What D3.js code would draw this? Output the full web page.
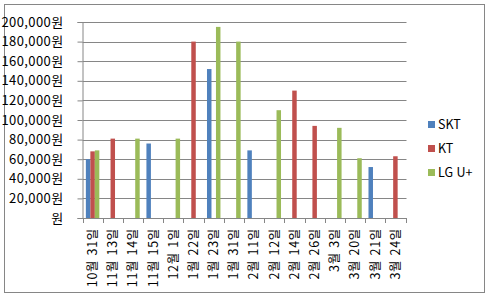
<!DOCTYPE html>
<html lang="ko">
<head>
  <meta charset="UTF-8">
  <script src="https://cdn.jsdelivr.net/npm/d3@7"></script>
  <title>Chart</title>
  <style>
    body { margin: 0; background: #fff; }
    svg { display: block; }
    text { font-family: "Malgun Gothic", "Noto Sans CJK KR", sans-serif; fill: #000; }
  </style>
</head>
<body>
  <svg></svg>
</body>
<script>
const width = 489;
const height = 297;

const categories = ['10월 31일', '11월 13일', '11월 14일', '11월 15일', '12월 1일', '1월 22일', '1월 23일', '1월 31일',
  '2월 11일', '2월 12일', '2월 14일', '2월 26일', '3월 3일', '3월 20일', '3월 21일', '3월 24일'];
const seriesNames = ['SKT', 'KT', 'LG U+'];
const seriesColors = ['#4F81BD', '#C0504D', '#9BBB59'];
const sktValues = [60000, null, null, 76000, null, null, 152000, null, 69000, null, null, null, null, null, 52000, null];
const ktValues = [68000, 81000, null, null, null, 180000, null, null, null, null, 130000, 94000, null, null, null, 63000];
const lguValues = [69000, null, 81000, null, 81000, null, 195000, 180000, null, 110000, null, null, 92000, 61000, null, null];
const yTicks = [0, 20000, 40000, 60000, 80000, 100000, 120000, 140000, 160000, 180000, 200000];

const plot = { left: 82.5, right: 405.5, top: 22, bottom: 218 };
const fontFamily = '"Malgun Gothic", "Noto Sans CJK KR", sans-serif';

const svg = d3.select('svg').attr('width', width).attr('height', height);

// 바깥 테두리
svg.append('rect')
  .attr('x', 4.5).attr('y', 4.5)
  .attr('width', 480).attr('height', 288)
  .attr('fill', '#fff')
  .attr('stroke', '#868686');

const xScale = d3.scaleBand().domain(categories).range([plot.left, plot.right]);
const subScale = d3.scaleBand().domain(seriesNames).range([0, xScale.bandwidth()]).paddingOuter(0.75);
const yScale = d3.scaleLinear().domain([0, 200000]).range([plot.bottom, plot.top]);

const rows = categories.map((c, i) => ({
  cat: c,
  vals: [sktValues[i], ktValues[i], lguValues[i]]
}));

// 눈금선
svg.append('g').selectAll('line')
  .data(yTicks.slice(1))
  .join('line')
  .attr('x1', plot.left).attr('x2', plot.right + 1)
  .attr('y1', d => Math.round(yScale(d)) + 0.5)
  .attr('y2', d => Math.round(yScale(d)) + 0.5)
  .attr('stroke', '#868686');

// 막대
const groups = svg.append('g').selectAll('g')
  .data(rows)
  .join('g')
  .attr('transform', d => `translate(${xScale(d.cat)},0)`);

groups.selectAll('rect')
  .data(d => d.vals.map((v, i) => ({ name: seriesNames[i], v, color: seriesColors[i] })).filter(e => e.v != null))
  .join('rect')
  .attr('x', e => subScale(e.name))
  .attr('width', subScale.bandwidth())
  .attr('y', e => yScale(e.v))
  .attr('height', e => yScale(0) - yScale(e.v))
  .attr('fill', e => e.color);

// Y축
const yAxis = d3.axisLeft(yScale)
  .tickValues(yTicks)
  .tickSize(5)
  .tickPadding(14)
  .tickFormat(d => (d === 0 ? '' : d3.format(',')(d)) + '원');
const yAxisLayer = svg.append('g')
  .attr('transform', `translate(${plot.left},0)`)
  .call(yAxis);
yAxisLayer.selectAll('line, path').attr('stroke', '#868686');
yAxisLayer.selectAll('text')
  .attr('font-size', 13)
  .attr('letter-spacing', 0.4)
  .style('font-family', fontFamily);

// X축
const xAxis = d3.axisBottom(xScale).tickSize(0).tickSizeOuter(0);
const xAxisLayer = svg.append('g')
  .attr('transform', `translate(0,${plot.bottom})`)
  .call(xAxis);
xAxisLayer.select('path').attr('stroke', '#868686');
xAxisLayer.selectAll('.tick text')
  .attr('transform', 'rotate(-90)')
  .attr('x', -10).attr('y', 0).attr('dy', '0.35em')
  .attr('text-anchor', 'end')
  .attr('font-size', 12.5)
  .attr('letter-spacing', 0.7)
  .style('font-family', fontFamily);

// 카테고리 경계 눈금
svg.append('g').selectAll('line')
  .data(d3.range(categories.length + 1))
  .join('line')
  .attr('x1', i => Math.round(plot.left + i * xScale.step()) + 0.5)
  .attr('x2', i => Math.round(plot.left + i * xScale.step()) + 0.5)
  .attr('y1', plot.bottom).attr('y2', plot.bottom + 5)
  .attr('stroke', '#868686');

// 범례
const legend = svg.append('g').attr('transform', 'translate(428,121)');
const items = legend.selectAll('g')
  .data(seriesNames)
  .join('g')
  .attr('transform', (d, i) => `translate(0,${i * 24})`);
items.append('rect').attr('width', 7).attr('height', 7).attr('fill', (d, i) => seriesColors[i]);
items.append('text')
  .attr('x', 10).attr('y', 3.5).attr('dy', '0.35em')
  .attr('font-size', 12.5)
  .text(d => d);
</script>
</html>
